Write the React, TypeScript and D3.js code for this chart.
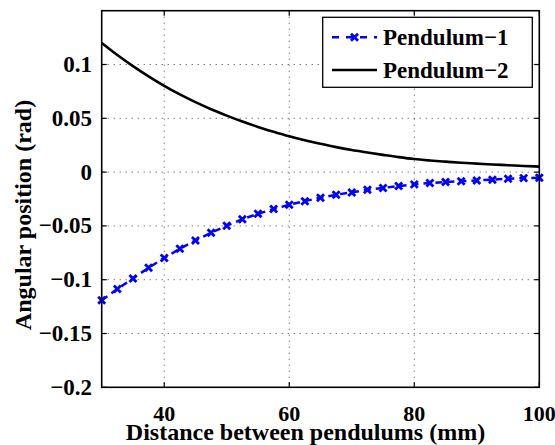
import React, { useEffect, useRef } from "react";
import * as d3 from "d3";

const distances = [30, 32.5, 35, 37.5, 40, 42.5, 45, 47.5, 50, 52.5, 55, 57.5, 60, 62.5, 65, 67.5, 70, 72.5, 75, 77.5, 80, 82.5, 85, 87.5, 90, 92.5, 95, 97.5, 100];
const pendulum1 = [-0.1192, -0.1087, -0.0988, -0.0889, -0.0799, -0.0712, -0.0635, -0.0564, -0.0498, -0.0438, -0.0387, -0.0344, -0.0303, -0.027, -0.0238, -0.021, -0.0189, -0.0164, -0.0147, -0.013, -0.0114, -0.0102, -0.0093, -0.0084, -0.0077, -0.0071, -0.0061, -0.0056, -0.0052];
const pendulum2 = [0.12, 0.1088, 0.0985, 0.089, 0.0802, 0.0722, 0.065, 0.0584, 0.0525, 0.047, 0.042, 0.0375, 0.0333, 0.0296, 0.0263, 0.0232, 0.0205, 0.0182, 0.016, 0.0139, 0.0121, 0.0108, 0.0097, 0.0087, 0.0079, 0.0071, 0.0064, 0.0057, 0.0051];
const xTicks = [40, 60, 80, 100];
const yTicks = [0.1, 0.05, 0, -0.05, -0.1, -0.15, -0.2];
const seriesNames = ["Pendulum\u22121", "Pendulum\u22122"];
const xLabel = "Distance between pendulums (mm)";
const yLabel = "Angular position (rad)";

const W = 555, H = 445;
const L = 101.7, R = 539.3, T = 10.7, B = 387.3;
const FONT = "'Liberation Serif', 'Times New Roman', serif";

function fmt(v: number) {
  if (v === 0) return "0";
  return (v < 0 ? "\u2212" : "") + String(Math.abs(v));
}

export default function App() {
  const ref = useRef<SVGSVGElement>(null);
  useEffect(() => {
    const svg = d3.select(ref.current);
    svg.selectAll("*").remove();
    const x = d3.scaleLinear().domain([30, 100]).range([L, R]);
    const y = d3.scaleLinear().domain([-0.2, 0.15]).range([B, T]);

    // grid
    const g = svg.append("g");
    xTicks.filter(t => t < 100).forEach(t => {
      g.append("line").attr("x1", x(t)).attr("x2", x(t)).attr("y1", T).attr("y2", B)
        .attr("stroke", "#444").attr("stroke-width", 1).attr("stroke-dasharray", "1,5");
    });
    yTicks.filter(t => t > -0.2).forEach(t => {
      g.append("line").attr("x1", L).attr("x2", R).attr("y1", y(t)).attr("y2", y(t))
        .attr("stroke", "#444").attr("stroke-width", 1).attr("stroke-dasharray", "1,5");
    });

    // Pendulum-2 line
    const line2 = d3.line<number>().x((_, i) => x(distances[i])).y(d => y(d)).curve(d3.curveMonotoneX);
    svg.append("path").attr("d", line2(pendulum2)).attr("fill", "none").attr("stroke", "#000").attr("stroke-width", 2.6);

    // Pendulum-1 dashed + markers
    const line1 = d3.line<number>().x((_, i) => x(distances[i])).y(d => y(d));
    svg.append("path").attr("d", line1(pendulum1)).attr("fill", "none").attr("stroke", "#0000ff")
      .attr("stroke-width", 2.5).attr("stroke-dasharray", "7,5");
    const mk = "M-3.5,-3.5L3.5,3.5M-3.5,3.5L3.5,-3.5";
    svg.append("g").selectAll("path").data(pendulum1).join("path")
      .attr("d", mk).attr("transform", (d, i) => `translate(${x(distances[i])},${y(d)})`)
      .attr("stroke", "#0000ff").attr("stroke-width", 2.8).attr("fill", "none");

    // axes box
    svg.append("rect").attr("x", L).attr("y", T).attr("width", R - L).attr("height", B - T)
      .attr("fill", "none").attr("stroke", "#000").attr("stroke-width", 1.6);
    const tl = 5;
    xTicks.forEach(t => {
      svg.append("line").attr("x1", x(t)).attr("x2", x(t)).attr("y1", B).attr("y2", B - tl).attr("stroke", "#000").attr("stroke-width", 1.2);
      svg.append("line").attr("x1", x(t)).attr("x2", x(t)).attr("y1", T).attr("y2", T + tl).attr("stroke", "#000").attr("stroke-width", 1.2);
      svg.append("text").attr("x", x(t)).attr("y", 421).attr("text-anchor", "middle")
        .attr("font-family", FONT).attr("font-weight", "bold").attr("font-size", 22).text(fmt(t));
    });
    yTicks.forEach(t => {
      svg.append("line").attr("x1", L).attr("x2", L + tl).attr("y1", y(t)).attr("y2", y(t)).attr("stroke", "#000").attr("stroke-width", 1.2);
      svg.append("line").attr("x1", R).attr("x2", R - tl).attr("y1", y(t)).attr("y2", y(t)).attr("stroke", "#000").attr("stroke-width", 1.2);
      svg.append("text").attr("x", 92).attr("y", y(t) + 7.5).attr("text-anchor", "end")
        .attr("font-family", FONT).attr("font-weight", "bold").attr("font-size", 23).text(fmt(t));
    });

    // axis labels
    svg.append("text").attr("x", 305.5).attr("y", 440).attr("text-anchor", "middle")
      .attr("font-family", FONT).attr("font-weight", "bold").attr("font-size", 24).text(xLabel);
    svg.append("text").attr("transform", `translate(31,215) rotate(-90)`).attr("text-anchor", "middle")
      .attr("font-family", FONT).attr("font-weight", "bold").attr("font-size", 24).text(yLabel);

    // legend
    const lg = svg.append("g");
    lg.append("rect").attr("x", 322.7).attr("y", 17.3).attr("width", 209.6).attr("height", 70)
      .attr("fill", "#fff").attr("stroke", "#000").attr("stroke-width", 1.3);
    const rows = [37.3, 70];
    lg.append("line").attr("x1", 332).attr("x2", 377).attr("y1", rows[0]).attr("y2", rows[0])
      .attr("stroke", "#0000ff").attr("stroke-width", 2.5).attr("stroke-dasharray", "7,7");
    lg.append("path").attr("d", mk).attr("transform", `translate(354.5,${rows[0]})`)
      .attr("stroke", "#0000ff").attr("stroke-width", 2.8).attr("fill", "none");
    lg.append("line").attr("x1", 332).attr("x2", 377).attr("y1", rows[1]).attr("y2", rows[1])
      .attr("stroke", "#000").attr("stroke-width", 2.5);
    seriesNames.forEach((n, i) => {
      lg.append("text").attr("x", 383).attr("y", rows[i] + 8)
        .attr("font-family", FONT).attr("font-weight", "bold").attr("font-size", 23).text(n);
    });
  }, []);
  return (
    <svg ref={ref} width={W} height={H} style={{ position: "absolute", left: 0, top: 0, background: "#fff" }} />
  );
}
